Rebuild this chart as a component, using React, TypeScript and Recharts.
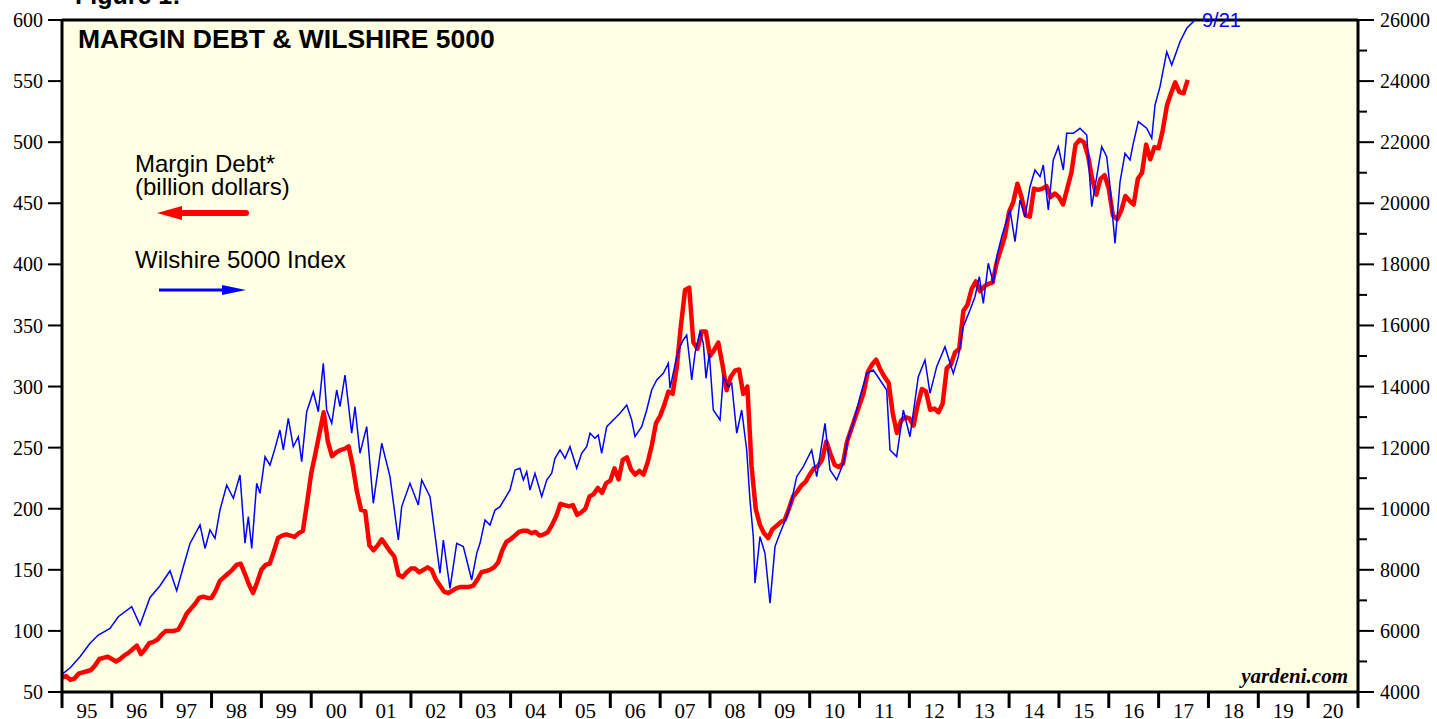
import { LineChart, Line, XAxis, YAxis, CartesianGrid, ReferenceLine } from "recharts";

// margin debt, billion dollars, monthly from Jan 1995
const START_YEAR = 1995;
const marginDebt = [
  62, 63, 60, 61, 65, 66, 67, 68, 72, 77, 78, 79,
  77, 75, 77, 80, 82, 85, 88, 81, 85, 90, 91, 93,
  97, 100, 100, 100, 101, 107, 114, 118, 122, 127, 128, 127,
  127, 133, 141, 144, 147, 150, 154, 155, 147, 138, 131, 140,
  150, 154, 155, 165, 176, 178, 179, 178, 177, 180, 182, 205,
  229, 245, 262, 279, 255, 243, 246, 248, 249, 251, 235, 214,
  199, 198, 170, 166, 170, 175, 170, 165, 161, 146, 144, 148,
  151, 151, 148, 150, 152, 150, 142, 137, 132, 131, 133, 135,
  136, 136, 136, 137, 142, 148, 149, 150, 152, 156, 166, 173,
  175, 178, 181, 182, 182, 180, 181, 178, 179, 181, 187, 194,
  204, 203, 202, 203, 195, 197, 200, 210, 212, 217, 213, 221,
  223, 233, 224, 240, 242, 232, 228, 231, 228, 238, 252, 270,
  276, 285, 296, 294, 316, 350, 379, 381, 336, 331, 345, 345,
  325, 330, 336, 318, 297, 308, 313, 314, 294, 300, 235, 200,
  187, 180, 176, 183, 186, 189, 191, 200, 210, 214, 219, 222,
  228, 233, 235, 240, 255, 245, 236, 234, 237, 255, 265, 275,
  285, 295, 312, 318, 322, 314, 308, 303, 278, 262, 272, 275,
  274, 268, 285, 298, 296, 281, 282, 279, 286, 315, 318, 328,
  331, 362, 367, 380, 386, 378, 382, 384, 385, 401, 412, 423,
  443, 451, 466, 455, 440, 439, 462, 461, 462, 464, 455, 458,
  455, 449, 462, 475, 498, 502, 500, 489, 470, 457, 470, 473,
  462, 440, 437, 444, 456, 452, 449, 470, 475, 498, 486, 496,
  495, 510, 530, 540, 549, 541, 540, 551,
];

// Wilshire 5000 turning points (decimal year, index level)
const wilshireDates = [
  1995.0, 1995.026, 1995.16, 1995.361, 1995.562, 1995.728, 1995.963, 1996.129, 1996.398, 1996.565,
  1996.765, 1996.966, 1997.167, 1997.301, 1997.434, 1997.568, 1997.769, 1997.869, 1997.969, 1998.069,
  1998.17, 1998.304, 1998.437, 1998.571, 1998.671, 1998.738, 1998.806, 1998.906, 1998.972, 1999.073,
  1999.172, 1999.273, 1999.372, 1999.44, 1999.54, 1999.64, 1999.741, 1999.809, 1999.909, 2000.042,
  2000.142, 2000.242, 2000.31, 2000.411, 2000.511, 2000.577, 2000.678, 2000.812, 2000.878, 2000.978,
  2001.113, 2001.245, 2001.414, 2001.58, 2001.747, 2001.815, 2001.981, 2002.148, 2002.216, 2002.383,
  2002.583, 2002.65, 2002.784, 2002.918, 2003.051, 2003.119, 2003.219, 2003.32, 2003.386, 2003.486,
  2003.586, 2003.687, 2003.787, 2003.887, 2003.988, 2004.088, 2004.188, 2004.255, 2004.323, 2004.389,
  2004.489, 2004.624, 2004.724, 2004.824, 2004.89, 2004.991, 2005.091, 2005.191, 2005.326, 2005.426,
  2005.526, 2005.593, 2005.693, 2005.759, 2005.827, 2005.928, 2006.06, 2006.194, 2006.329, 2006.429,
  2006.495, 2006.63, 2006.73, 2006.83, 2006.931, 2007.063, 2007.163, 2007.198, 2007.332, 2007.398,
  2007.464, 2007.533, 2007.599, 2007.633, 2007.699, 2007.799, 2007.866, 2007.92, 2007.986, 2008.066,
  2008.201, 2008.267, 2008.367, 2008.435, 2008.536, 2008.636, 2008.736, 2008.802, 2008.869, 2008.903,
  2009.003, 2009.103, 2009.204, 2009.304, 2009.404, 2009.539, 2009.639, 2009.739, 2009.872, 2010.04,
  2010.141, 2010.307, 2010.408, 2010.542, 2010.674, 2010.775, 2010.875, 2011.01, 2011.144, 2011.276,
  2011.411, 2011.545, 2011.611, 2011.745, 2011.878, 2012.012, 2012.179, 2012.313, 2012.414, 2012.548,
  2012.714, 2012.881, 2012.981, 2013.082, 2013.216, 2013.316, 2013.403, 2013.483, 2013.583, 2013.684,
  2013.752, 2013.852, 2013.952, 2014.019, 2014.119, 2014.219, 2014.32, 2014.42, 2014.52, 2014.621,
  2014.687, 2014.787, 2014.887, 2014.988, 2015.088, 2015.156, 2015.289, 2015.423, 2015.558, 2015.658,
  2015.758, 2015.858, 2015.959, 2016.025, 2016.125, 2016.226, 2016.326, 2016.426, 2016.492, 2016.593,
  2016.761, 2016.862, 2016.928, 2017.028, 2017.163, 2017.263, 2017.429, 2017.564, 2017.73,
];
const wilshireValues = [
  4600, 4612, 4786, 5157, 5593, 5866, 6084, 6464, 6792, 6190,
  7097, 7480, 7970, 7316, 8102, 8864, 9468, 8700, 9304, 9032,
  9959, 10777, 10341, 11104, 8869, 9740, 8700, 10832, 10505, 11700,
  11430, 11975, 12577, 11923, 12960, 12030, 12358, 11540, 13176, 13830,
  13176, 14760, 13232, 12796, 13887, 13340, 14378, 12470, 13340, 11815,
  12686, 10178, 12143, 11049, 8976, 10069, 10832, 10123, 10940, 10396,
  7886, 8976, 7395, 8868, 8760, 8322, 7668, 8540, 8868, 9631,
  9467, 9958, 10067, 10341, 10613, 11268, 11323, 10940, 11213, 10613,
  11160, 10394, 10940, 11160, 11651, 11923, 11651, 12032, 11323, 11815,
  12032, 12470, 12306, 12414, 11815, 12686, 12905, 13124, 13396, 12905,
  12358, 12686, 13232, 13887, 14214, 14433, 14761, 13943, 14977, 15305,
  15524, 15688, 14761, 14214, 15088, 15796, 15415, 14270, 15088, 13232,
  12905, 14323, 13995, 14105, 12470, 13232, 11923, 10287, 9085, 7559,
  9085, 8541, 6904, 8760, 9195, 9740, 10287, 11049, 11376, 11923,
  11049, 12796, 11268, 10941, 11486, 12358, 12796, 13668, 14432, 14541,
  14214, 13887, 11923, 11705, 13232, 12358, 14323, 14869, 13777, 14650,
  15306, 14432, 14978, 15960, 16506, 16942, 17596, 16725, 18035, 17380,
  18251, 18906, 19454, 19780, 18743, 20107, 19561, 20543, 21090, 20870,
  21253, 19780, 21417, 21853, 21090, 22290, 22290, 22455, 22235, 19888,
  20870, 21853, 21527, 20543, 18688, 20700, 21635, 21417, 21963, 22672,
  22455, 22128, 23217, 23817, 24963, 24527, 25290, 25728, 26000,
];

const yearTicks = [
  1995, 1996, 1997, 1998, 1999, 2000, 2001, 2002, 2003, 2004, 2005, 2006, 2007, 2008,
  2009, 2010, 2011, 2012, 2013, 2014, 2015, 2016, 2017, 2018, 2019, 2020, 2021,
];
const yearLabels = [
  "95", "96", "97", "98", "99", "00", "01", "02", "03", "04", "05", "06", "07",
  "08", "09", "10", "11", "12", "13", "14", "15", "16", "17", "18", "19", "20",
];
const leftTicks = [50, 100, 150, 200, 250, 300, 350, 400, 450, 500, 550, 600];
const rightTicks = [
  4000, 5000, 6000, 7000, 8000, 9000, 10000, 11000, 12000, 13000, 14000, 15000,
  16000, 17000, 18000, 19000, 20000, 21000, 22000, 23000, 24000, 25000, 26000,
];

const debtData = marginDebt.map((v, i) => ({ t: START_YEAR + i / 12, debt: v }));
const wilshireData = wilshireDates.map((t, i) => ({ t, wil: wilshireValues[i] }));

const W = 1437;
const H = 719;
const LEFT_W = 62;
const RIGHT_W = 79;
const HALF_YEAR = (W - LEFT_W - RIGHT_W) / (yearTicks.length - 1) / 2;
const SERIF = '"Liberation Serif", "DejaVu Serif", serif';
const SANS = '"Liberation Sans", Arial, sans-serif';
const R_TICK = 16;
const R_MARGIN = 6;

const YearTick = (props: any) => {
  const { x, y, payload } = props;
  const label = yearLabels[payload.value - START_YEAR];
  if (!label) return <g />;
  return (
    <text x={x + HALF_YEAR} y={y + 8} textAnchor="middle" fontSize={21} fontFamily={SERIF} fill="#000">
      {label}
    </text>
  );
};

const RightTick = (props: any) => {
  const { x, y, payload } = props;
  const major = payload.value % 2000 === 0;
  const ax = x - R_TICK - R_MARGIN;
  return (
    <g>
      <line x1={ax} x2={ax + (major ? 16 : 9)} y1={y} y2={y} stroke="#000" strokeWidth={2} />
      {major && (
        <text x={x} y={y} dy="0.35em" textAnchor="start" fontSize={20} fontFamily={SERIF} fill="#000">
          {payload.value}
        </text>
      )}
    </g>
  );
};

export default function App() {
  return (
    <div style={{ position: "absolute", left: 0, top: 0, width: W, height: H, background: "#fff" }}>
      <LineChart width={W} height={H} margin={{ top: 20, right: 0, bottom: 0, left: 0 }}>
        <CartesianGrid fill="#ffffe4" horizontal={false} vertical={false} />
        <XAxis
          dataKey="t"
          type="number"
          domain={[1995, 2021]}
          ticks={yearTicks}
          interval={0}
          height={27}
          tickSize={16}
          tickMargin={2}
          axisLine={{ stroke: "#000", strokeWidth: 3 }}
          tickLine={{ stroke: "#000", strokeWidth: 3 }}
          tick={<YearTick />}
          allowDataOverflow
        />
        <YAxis
          domain={[50, 600]}
          ticks={leftTicks}
          interval={0}
          width={LEFT_W}
          tickSize={14}
          tickMargin={5}
          axisLine={{ stroke: "#000", strokeWidth: 3 }}
          tickLine={{ stroke: "#000", strokeWidth: 2 }}
          tick={{ fill: "#000", fontSize: 20, fontFamily: SERIF }}
          allowDataOverflow
        />
        <YAxis
          yAxisId="right"
          orientation="right"
          domain={[4000, 26000]}
          ticks={rightTicks}
          interval={0}
          width={RIGHT_W}
          tickSize={R_TICK}
          tickMargin={R_MARGIN}
          axisLine={{ stroke: "#000", strokeWidth: 3 }}
          tickLine={false}
          tick={<RightTick />}
          allowDataOverflow
        />
        <ReferenceLine y={600} stroke="#000" strokeWidth={3} />
        <Line
          data={debtData}
          dataKey="debt"
          stroke="#ff0000"
          strokeWidth={4.5}
          strokeLinejoin="round"
          dot={false}
          activeDot={false}
          isAnimationActive={false}
        />
        <Line
          data={wilshireData}
          dataKey="wil"
          yAxisId="right"
          stroke="#0000ff"
          strokeWidth={1.5}
          dot={false}
          activeDot={false}
          isAnimationActive={false}
        />
      </LineChart>
      <svg width={W} height={H} style={{ position: "absolute", left: 0, top: 0, pointerEvents: "none" }}>
        <text x={75} y={4} fontSize={25} fontWeight="bold" fontFamily={SANS} fill="#000">Figure 1:</text>
        <text x={78} y={48} fontSize={26.5} fontWeight="bold" fontFamily={SANS} fill="#000">
          MARGIN DEBT &amp; WILSHIRE 5000
        </text>
        <text fontSize={24} fontFamily={SANS} fill="#000">
          <tspan x={135} y={172}>Margin Debt*</tspan>
          <tspan x={135} y={195}>(billion dollars)</tspan>
        </text>
        <line x1={246} x2={174} y1={213} y2={213} stroke="#ff0000" strokeWidth={6} strokeLinecap="round" />
        <polygon points="157,213 182,206 182,220" fill="#ff0000" />
        <text x={135} y={268} fontSize={24} fontFamily={SANS} fill="#000">Wilshire 5000 Index</text>
        <line x1={159} x2={228} y1={290} y2={290} stroke="#0000ff" strokeWidth={3} />
        <polygon points="246,290 222,285 222,295" fill="#0000ff" />
        <text x={1202} y={27} fontSize={20} fontFamily={SANS} fill="#0000ff">9/21</text>
        <text x={1348} y={683} fontSize={21} fontWeight="bold" fontStyle="italic" fontFamily={SERIF} fill="#000" textAnchor="end">
          yardeni.com
        </text>
      </svg>
    </div>
  );
}
